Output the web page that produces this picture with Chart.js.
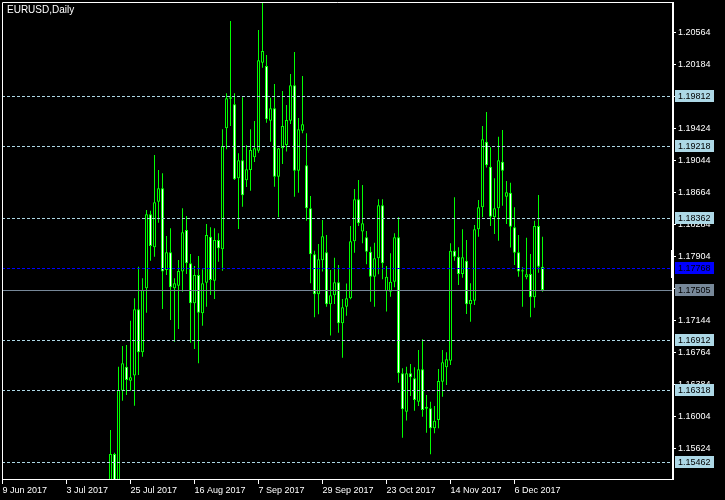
<!DOCTYPE html>
<html>
<head>
<meta charset="utf-8">
<script src="https://cdn.jsdelivr.net/npm/chart.js@4.4.1/dist/chart.umd.min.js"></script>
<style>
  html, body { margin: 0; padding: 0; background: #000; }
</style>
</head>
<body>
<canvas id="myCanvas" width="725" height="500"></canvas>
<script>
// daily bars, counted from 9 Jun 2017 (bar 0); first drawn bar is 18 Jul 2017
const firstBar = 27;
const open = [1.1478, 1.15557, 1.1518, 1.16308, 1.16593, 1.16427, 1.16487, 1.17275, 1.16764, 1.17524,
  1.18403, 1.18011, 1.18553, 1.18712, 1.17742, 1.17952, 1.17524, 1.17555, 1.17722, 1.18217,
  1.17821, 1.17346, 1.17682, 1.17228, 1.17591, 1.18137, 1.17615, 1.18098, 1.17988, 1.19424,
  1.19776, 1.19709, 1.18831, 1.19044, 1.18807, 1.18929, 1.19080, 1.19158, 1.20203, 1.20164,
  1.19514, 1.19662, 1.18850, 1.19187, 1.19226, 1.19514, 1.19935, 1.18921, 1.19396, 1.18985,
  1.18474, 1.17928, 1.17453, 1.17857, 1.17952, 1.17334, 1.17441, 1.17596, 1.17109, 1.17306,
  1.17406, 1.18083, 1.18581, 1.18197, 1.18130, 1.17959, 1.17662, 1.17881, 1.18510, 1.17492,
  1.17484, 1.17603, 1.18130, 1.16515, 1.16059, 1.16515, 1.16456, 1.16178, 1.16563, 1.16118,
  1.16099, 1.15862, 1.15960, 1.16415, 1.16586, 1.16665, 1.17971, 1.17900, 1.17694, 1.17852,
  1.17334, 1.17377, 1.18225, 1.18486, 1.19265, 1.18968, 1.18368, 1.18474, 1.19028, 1.18612,
  1.18660, 1.18249, 1.17952, 1.17722, 1.17655, 1.17694, 1.17418, 1.18264, 1.17781];
const high = [1.15842, 1.15572, 1.16593, 1.16839, 1.16851, 1.17140, 1.17406, 1.17781, 1.17643, 1.18454,
  1.18446, 1.19107, 1.18929, 1.18890, 1.18145, 1.18237, 1.17643, 1.17860, 1.18474, 1.18383,
  1.17932, 1.17789, 1.17908, 1.17750, 1.18288, 1.18249, 1.18237, 1.18178, 1.19412, 1.19840,
  1.20698, 1.19840, 1.19128, 1.19792, 1.19222, 1.19412, 1.19511, 1.20591, 1.20916, 1.20295,
  1.19787, 1.19950, 1.19190, 1.19867, 1.19701, 1.20069, 1.20330, 1.19546, 1.20045, 1.19365,
  1.18620, 1.17971, 1.18050, 1.18335, 1.18157, 1.17742, 1.17888, 1.17801, 1.17397, 1.17580,
  1.18264, 1.18704, 1.18810, 1.18751, 1.18205, 1.18018, 1.18066, 1.18581, 1.18581, 1.17789,
  1.17940, 1.18178, 1.18368, 1.16574, 1.16593, 1.16625, 1.16586, 1.16792, 1.16919, 1.16257,
  1.16178, 1.16127, 1.16566, 1.16792, 1.16764, 1.18059, 1.18605, 1.18011, 1.18225, 1.18098,
  1.17584, 1.18276, 1.18573, 1.19452, 1.19618, 1.19199, 1.18831, 1.19325, 1.19404, 1.18799,
  1.18778, 1.18486, 1.18157, 1.17774, 1.18125, 1.17932, 1.18327, 1.18632, 1.18137];
const low = [1.1475, 1.1513, 1.1479, 1.16190, 1.16257, 1.16308, 1.16130, 1.16495, 1.16712, 1.17235,
  1.17852, 1.17900, 1.18303, 1.17279, 1.17682, 1.17148, 1.16890, 1.17041, 1.17484, 1.17694,
  1.16878, 1.16804, 1.16634, 1.17080, 1.17306, 1.17445, 1.17397, 1.17840, 1.17733, 1.19175,
  1.19452, 1.18810, 1.18229, 1.18493, 1.18727, 1.18683, 1.19024, 1.19135, 1.20144, 1.19491,
  1.19265, 1.18731, 1.18368, 1.19000, 1.19147, 1.19475, 1.18612, 1.18660, 1.19365, 1.18327,
  1.17584, 1.17180, 1.17216, 1.17722, 1.17306, 1.16962, 1.17338, 1.16997, 1.16700, 1.17199,
  1.17394, 1.17947, 1.18264, 1.18059, 1.17809, 1.17365, 1.17306, 1.17691, 1.17631, 1.17247,
  1.17425, 1.17536, 1.16403, 1.15750, 1.15955, 1.16245, 1.16071, 1.16127, 1.16000, 1.15810,
  1.15553, 1.15803, 1.15862, 1.16237, 1.16376, 1.16614, 1.17852, 1.17564, 1.17650, 1.17219,
  1.17128, 1.17326, 1.18137, 1.18368, 1.18957, 1.18264, 1.18169, 1.18090, 1.18505, 1.18288,
  1.18007, 1.17801, 1.17662, 1.17306, 1.17631, 1.17180, 1.17294, 1.17710, 1.17484];
const close = [1.15557, 1.1518, 1.16317, 1.16634, 1.16435, 1.16468, 1.17275, 1.16764, 1.17504, 1.18403,
  1.18027, 1.18546, 1.18712, 1.17722, 1.17952, 1.17536, 1.17584, 1.17730, 1.18189, 1.17821,
  1.17346, 1.17682, 1.17235, 1.17584, 1.18157, 1.17623, 1.18098, 1.17999, 1.19214, 1.19780,
  1.19792, 1.18819, 1.19044, 1.18629, 1.18938, 1.19167, 1.19187, 1.20232, 1.20342, 1.19531,
  1.19662, 1.18850, 1.19187, 1.19452, 1.19523, 1.19935, 1.18921, 1.19412, 1.19472, 1.18474,
  1.17928, 1.17453, 1.17869, 1.18142, 1.17334, 1.17441, 1.17596, 1.17109, 1.17299, 1.17406,
  1.18083, 1.18581, 1.18296, 1.18296, 1.17959, 1.17662, 1.17881, 1.18510, 1.17821, 1.17662,
  1.17603, 1.18130, 1.16515, 1.16088, 1.16515, 1.16468, 1.16198, 1.16563, 1.16079, 1.16095,
  1.15862, 1.15952, 1.16424, 1.16646, 1.16681, 1.17971, 1.17900, 1.17694, 1.17893, 1.17334,
  1.17385, 1.18225, 1.18486, 1.19294, 1.18985, 1.18375, 1.18474, 1.19044, 1.18921, 1.18664,
  1.18256, 1.17947, 1.17722, 1.17738, 1.17691, 1.17418, 1.18264, 1.17781, 1.17505];

const xTickBars = [0, 16, 32, 48, 64, 80, 96, 112, 128];
const xTickLabels = ["9 Jun 2017", "3 Jul 2017", "25 Jul 2017", "16 Aug 2017", "7 Sep 2017",
  "29 Sep 2017", "23 Oct 2017", "14 Nov 2017", "6 Dec 2017"];
const yTicks = [1.15624, 1.16004, 1.16384, 1.16764, 1.17144, 1.17524, 1.17904,
  1.18284, 1.18664, 1.19044, 1.19424, 1.19804, 1.20184, 1.20564];

const hLines = [1.19812, 1.19218, 1.18362, 1.16912, 1.16318, 1.15462];
const blueLine = 1.17768;
const bidLine = 1.17505;

const yMin = 1.152594;
const yMax = 1.209119;

const FONT = "'Liberation Sans', Arial, sans-serif";
const GREEN = "#00ff00";

const bodies = open.map((o, k) => ({ x: firstBar + k, y: [o, close[k]] }));
const wicks = low.map((l, k) => ({ x: firstBar + k, y: [l, high[k]] }));

const overlay = {
    id: "overlay",
    afterDatasetsDraw(chart) {
        const ctx = chart.ctx;
        const a = chart.chartArea;
        const ys = chart.scales.y;
        ctx.save();
        ctx.lineWidth = 1;
        const line = (v, color, dash) => {
            const y = Math.round(ys.getPixelForValue(v)) + 0.5;
            ctx.strokeStyle = color;
            ctx.setLineDash(dash);
            ctx.beginPath();
            ctx.moveTo(a.left, y);
            ctx.lineTo(a.right, y);
            ctx.stroke();
        };
        hLines.forEach(v => line(v, "#add8e6", [3, 2]));
        line(blueLine, "#0000ff", [3, 2]);
        line(bidLine, "#778899", []);
        ctx.restore();
    },
    afterDraw(chart) {
        const ctx = chart.ctx;
        const a = chart.chartArea;
        const ys = chart.scales.y;
        ctx.save();
        // frame
        ctx.strokeStyle = "#fff";
        ctx.lineWidth = 1;
        ctx.setLineDash([]);
        ctx.beginPath();
        ctx.moveTo(a.left + 0.5, a.bottom + 0.5);
        ctx.lineTo(a.left + 0.5, a.top - 0.5);
        ctx.lineTo(a.right, a.top - 0.5);
        ctx.moveTo(a.left, a.bottom + 0.5);
        ctx.lineTo(a.right, a.bottom + 0.5);
        ctx.stroke();
        ctx.lineWidth = 2;
        ctx.beginPath();
        ctx.moveTo(a.right + 1, a.top - 1);
        ctx.lineTo(a.right + 1, a.bottom + 1);
        ctx.stroke();
        // marker on the price scale next to the last bars
        ctx.fillStyle = "#fff";
        ctx.fillRect(a.right - 1, 250, 3, 28);

        // price labels
        ctx.font = "9px " + FONT;
        ctx.textBaseline = "middle";
        ctx.textAlign = "left";
        const tag = (v, bg) => {
            const y = Math.round(ys.getPixelForValue(v));
            ctx.fillStyle = bg;
            ctx.fillRect(a.right + 3, y - 6, 39, 12);
            ctx.fillStyle = "#000";
            ctx.fillText(v.toFixed(5), a.right + 6, y + 0.5);
        };
        hLines.forEach(v => tag(v, "#add8e6"));
        tag(blueLine, "#0000ff");
        tag(bidLine, "#778899");

        // title
        ctx.fillStyle = "#fff";
        ctx.font = "10px " + FONT;
        ctx.fillText("EURUSD,Daily", 7, 10);
        ctx.restore();
    }
};

new Chart(document.getElementById("myCanvas"), {
    type: "bar",
    data: {
        datasets: [
            {
                label: "body",
                data: bodies,
                order: 0,
                grouped: false,
                barThickness: 3,
                borderWidth: 1,
                borderSkipped: false,
                borderColor: GREEN,
                inflateAmount: 0,
                backgroundColor: c => (close[c.dataIndex] >= open[c.dataIndex] ? "#000" : "#fff"),
                clip: 0,
            },
            {
                label: "wick",
                data: wicks,
                order: 1,
                grouped: false,
                barThickness: 1,
                borderWidth: 0,
                inflateAmount: 0,
                backgroundColor: GREEN,
                clip: 0,
            },
        ],
    },
    options: {
        responsive: false,
        animation: false,
        devicePixelRatio: 1,
        layout: { padding: { left: 2, top: 3, right: 0, bottom: 0 } },
        plugins: {
            legend: { display: false },
            tooltip: { enabled: false },
        },
        scales: {
            x: {
                type: "linear",
                position: "bottom",
                offset: false,
                min: -0.125,
                max: 167.375,
                border: { display: false },
                grid: {
                    offset: false,
                    drawOnChartArea: false,
                    drawTicks: true,
                    tickLength: 5,
                    tickColor: "#fff",
                },
                afterBuildTicks: s => { s.ticks = xTickBars.map(v => ({ value: v })); },
                afterFit: s => { s.height = 21; s.paddingLeft = 0; s.paddingRight = 0; },
                ticks: {
                    autoSkip: false,
                    maxRotation: 0,
                    align: "start",
                    padding: 1,
                    color: "#fff",
                    font: { family: FONT, size: 9 },
                    callback: (v, i) => xTickLabels[i],
                },
            },
            y: {
                position: "right",
                min: yMin,
                max: yMax,
                border: { display: false },
                grid: {
                    drawOnChartArea: false,
                    drawTicks: true,
                    tickLength: 4,
                    tickColor: "#fff",
                },
                afterBuildTicks: s => { s.ticks = yTicks.map(v => ({ value: v })); },
                afterFit: s => { s.width = 53; s.paddingTop = 0; s.paddingBottom = 0; },
                ticks: {
                    padding: 2,
                    color: "#fff",
                    font: { family: FONT, size: 9 },
                    callback: v => v.toFixed(5),
                },
            },
        },
    },
    plugins: [overlay],
});
</script>
</body>
</html>
